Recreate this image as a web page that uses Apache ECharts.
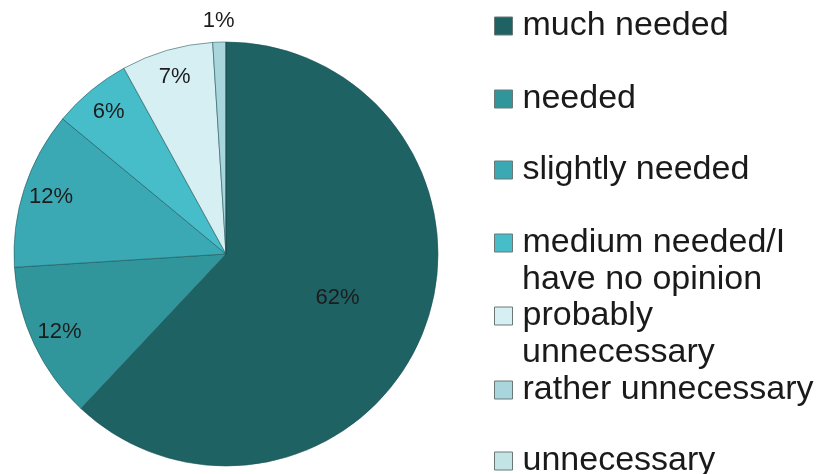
<!DOCTYPE html>
<html>
<head>
<meta charset="utf-8">
<script src="https://cdn.jsdelivr.net/npm/echarts@6/dist/echarts.min.js"></script>
<style>
html,body{margin:0;padding:0;background:#fff;}
#chart{width:822px;height:474px;}
</style>
</head>
<body>
<div id="chart"></div>
<script>
const categories = ['much needed','needed','slightly needed','medium needed/I have no opinion','probably unnecessary','rather unnecessary','unnecessary'];
const values = [62, 12, 12, 6, 7, 1, 0];
const legendFirstLines = ['much needed','needed','slightly needed','medium needed/I','probably','rather unnecessary','unnecessary'];
const legendSecondLines = ['', '', '', 'have no opinion', 'unnecessary', '', ''];

const colors = ['#1f6264','#31969b','#3aa9b4','#47bdca','#d6eff3','#a9d6dc','#c3e4e4'];
const legendCenters = [26, 99, 170, 243, 316, 390, 461];
const FONT = '"Liberation Sans", Arial, sans-serif';

const pieData = categories.map((n, i) => ({ name: n, value: values[i], itemStyle: { color: colors[i] } }));
const overlayData = categories.map((n, i) => ({ name: n, value: values[i] }));

function overlay(radius, showIdx) {
  return {
    type: 'pie', center: [226, 254], radius: radius, startAngle: 90, clockwise: true,
    silent: true, legendHoverLink: false, emphasis: { disabled: true },
    itemStyle: { color: 'transparent', borderWidth: 0 },
    label: {
      show: true, position: 'inside', fontFamily: FONT, fontSize: 22, color: '#1c1c1c',
      formatter: p => showIdx.indexOf(p.dataIndex) >= 0 ? p.value + '%' : ''
    },
    labelLine: { show: false },
    data: overlayData
  };
}

const legends = categories.map((n, i) => ({
  data: [n], orient: 'vertical', left: 494, top: legendCenters[i] - 18, padding: 0,
  icon: 'rect', itemWidth: 18, itemHeight: 18,
  itemStyle: { borderColor: '#6a7878', borderWidth: 1 },
  selectedMode: false,
  formatter: () => legendFirstLines[i],
  textStyle: { fontFamily: FONT, fontSize: 34, color: '#1a1a1a', lineHeight: 36, padding: [0, 0, 0, 5] }
}));

const secondLineTexts = [];
legendSecondLines.forEach((t, i) => {
  if (t) secondLineTexts.push({
    type: 'text', left: 522, top: legendCenters[i] + 37 - 18,
    style: { text: t, font: '34px ' + FONT, fill: '#1a1a1a', lineHeight: 36 }
  });
});

const chart = echarts.init(document.getElementById('chart'));
chart.setOption({
  backgroundColor: '#ffffff',
  animation: false,
  legend: legends,
  graphic: secondLineTexts,
  series: [
    {
      type: 'pie', center: [226, 254], radius: [0, 212], startAngle: 90, clockwise: true,
      label: { show: false }, labelLine: { show: false },
      emphasis: { disabled: true },
      itemStyle: { borderColor: 'rgba(25,80,85,0.55)', borderWidth: 1 },
      data: pieData
    },
    overlay([22, 212], [0]),
    overlay([150, 212], [1, 2, 3, 4]),
    overlay([212, 248], [5])
  ]
});
</script>
</body>
</html>
